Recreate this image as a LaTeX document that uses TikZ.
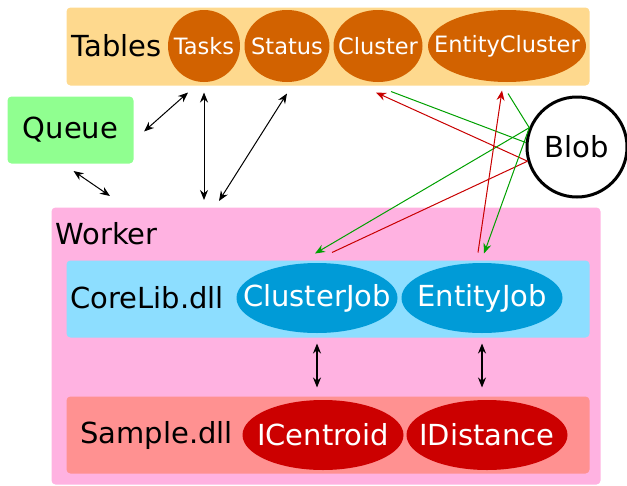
\documentclass[tikz,border=0pt]{standalone}
\usepackage{fontspec}
\setmainfont{DejaVu Sans}
\usetikzlibrary{shapes,arrows.meta}
\definecolor{tblFill}{RGB}{254,217,142}
\definecolor{tblEll}{RGB}{210,98,0}
\definecolor{queueFill}{RGB}{144,255,144}
\definecolor{workFill}{RGB}{255,178,225}
\definecolor{coreFill}{RGB}{141,222,255}
\definecolor{jobEll}{RGB}{0,155,215}
\definecolor{sampFill}{RGB}{255,145,145}
\definecolor{ifcEll}{RGB}{204,0,0}
\definecolor{rdFlow}{RGB}{200,0,0}
\definecolor{grFlow}{RGB}{0,160,0}
\newcommand{\ovTxt}[1]{\makebox[0pt]{#1}}
\tikzset{
  bigTxt/.style = {font=\fontsize{29}{34}\selectfont},
  layer_b/.style = {rounded corners=4pt, inner sep=0pt, anchor=north west},
  lbl_n/.style = {bigTxt, inner sep=0pt, anchor=west},
  tbl_e/.style = {ellipse, fill=tblEll, text=white, inner sep=0pt,
    minimum height=72pt, font=\fontsize{22.5}{26}\selectfont},
  job_e/.style = {ellipse, fill=jobEll, text=white, bigTxt, inner sep=0pt,
    minimum width=161pt, minimum height=70pt},
  ifc_e/.style = {job_e, fill=ifcEll},
  flow_r/.style = {rdFlow, line width=1pt},
  flow_g/.style = {grFlow, line width=1pt}
    % rouge = ecriture, vert = lecture
}

\begin{document}
\begin{tikzpicture}[x=1pt,y=-1pt,line width=1pt,
  >={Stealth[length=10pt,width=8pt]}]
\useasboundingbox (0,0) rectangle (627,485);
% tables
\node[layer_b, fill=tblFill, minimum width=523pt, minimum height=78pt] (tables) at (66,7) {};
\node[lbl_n] (tablesTxt) at (71,46) {Tables};
\node[tbl_e, minimum width=72pt] (tasks) at (204,46) {\ovTxt{Tasks}};
\node[tbl_e, minimum width=85pt] (status) at (287,46) {\ovTxt{Status}};
\node[tbl_e, minimum width=89pt] (cluster) at (378,46) {\ovTxt{Cluster}};
\node[tbl_e, minimum width=158pt] (entCluster) at (507,46) {\ovTxt{EntityCluster}};
% queue
\node[layer_b, fill=queueFill, minimum width=126pt, minimum height=67pt, bigTxt] (queue) at (7,96) {Queue};
% blob
\node[circle, draw, line width=3pt, fill=white, minimum size=100pt, inner sep=0pt, bigTxt] (blob) at (577,147) {Blob};
% worker
\node[layer_b, fill=workFill, minimum width=549pt, minimum height=277pt] (worker) at (51,207) {};
\node[lbl_n] (workerTxt) at (55,234) {Worker};
\node[layer_b, fill=coreFill, minimum width=523pt, minimum height=77pt] (coreLib) at (66,260) {};
\node[lbl_n] (coreTxt) at (70,298) {CoreLib.dll};
\node[job_e] (clJob) at (317,298) {\ovTxt{ClusterJob}};
\node[job_e] (entJob) at (482,298) {\ovTxt{EntityJob}};
\node[layer_b, fill=sampFill, minimum width=523pt, minimum height=77pt] (sample) at (66,396) {};
\node[lbl_n] (sampleTxt) at (80,435) {Sample.dll};
\node[ifc_e] (iCentroid) at (323,435) {\ovTxt{ICentroid}};
\node[ifc_e] (iDistance) at (487,435) {\ovTxt{IDistance}};

\draw[<->] ([xshift=10pt,yshift=-1.5pt]queue.east) -- ([xshift=-16pt,yshift=-10pt]tasks.south);
\draw[<->] ([xshift=3pt,yshift=-7pt]queue.south) -- ([xshift=59pt,yshift=11pt]worker.north west);
\draw[<->, shorten <=10pt, shorten >=7pt] (tasks.south) -- (tasks.south |- worker.north);
\draw[<->] ([yshift=-11pt]status.south) -- ([xshift=168pt,yshift=6pt]worker.north west);
\draw[<->, line width=1.3pt, shorten <=10pt, shorten >=12pt] (clJob.south) -- (clJob.south |- iCentroid.north);
\draw[<->, line width=1.3pt, shorten <=10pt, shorten >=12pt] (entJob.south) -- (entJob.south |- iDistance.north);

\draw[flow_r, ->] (blob.196) -- ([xshift=-2pt,yshift=-10pt]cluster.south);
\draw[flow_g] ([xshift=13pt,yshift=-9pt]cluster.south) -- (blob.175);
\draw[flow_g, ->] (blob.158) -- ([xshift=-2pt,yshift=9pt]clJob.north);
\draw[flow_r] ([xshift=15pt,yshift=10pt]clJob.north) -- (blob.196);
\draw[flow_r, ->] ([xshift=-4pt,yshift=10pt]entJob.north) -- ([xshift=-5pt,yshift=-8pt]entCluster.south);
\draw[flow_g] ([xshift=1pt,yshift=-11pt]entCluster.south) -- (blob.158);
\draw[flow_g, ->] (blob.157) -- ([xshift=2pt,yshift=9pt]entJob.north);
\end{tikzpicture}
\end{document}
